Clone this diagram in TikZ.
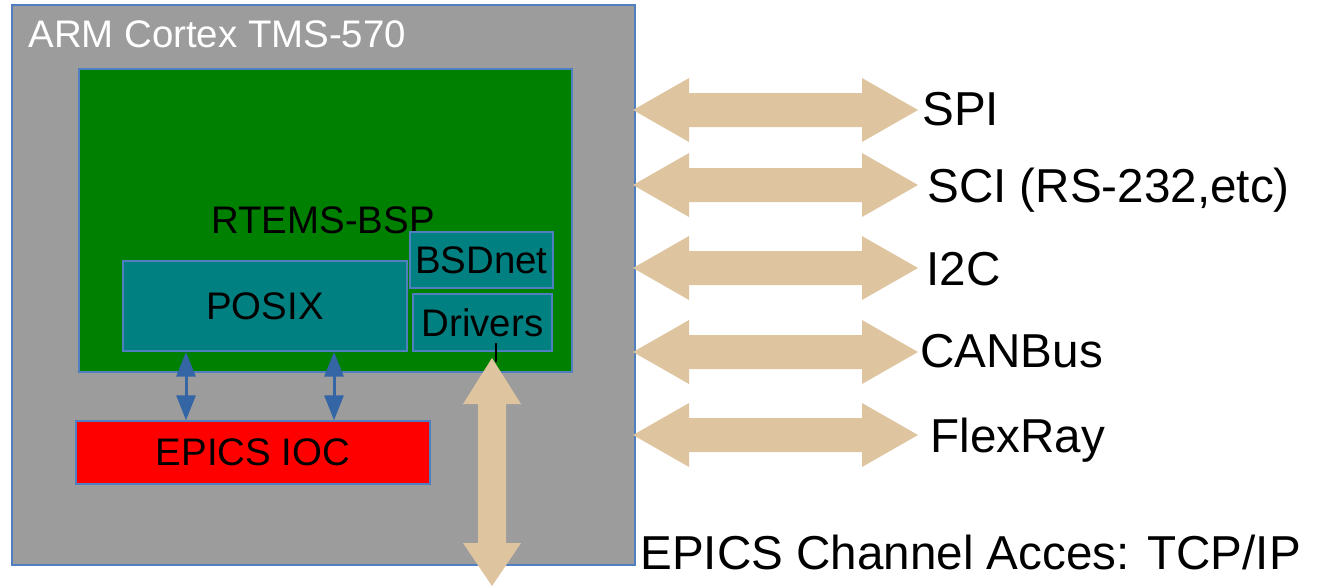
\documentclass[tikz,border=0pt]{standalone}
\usepackage{fontspec}
\setmainfont{Liberation Sans}
\usetikzlibrary{arrows.meta}
\definecolor{cgray}{HTML}{9C9C9C}
\definecolor{cgreen}{HTML}{008000}
\definecolor{cteal}{HTML}{008080}
\definecolor{cred}{HTML}{FF0000}
\definecolor{ctan}{HTML}{DEC59F}
\definecolor{cborder}{HTML}{4F7FC0}
\definecolor{cblue}{HTML}{3465A4}
\newcommand{\fin}{\fontsize{19.2pt}{23pt}\selectfont}
\newcommand{\fout}{\fontsize{23.8pt}{28pt}\selectfont}
\tikzset{
  box/.style={draw=cborder, line width=0.7pt, inner sep=0pt, rectangle},
  intext/.style={font=\fin, text=black, inner sep=0pt},
  outtext/.style={font=\fout, text=black, inner sep=0pt, anchor=base west},
  bluearrow/.style={draw=cblue, line width=1.5pt, {Triangle[width=9.5pt,length=12.5pt]}-{Triangle[width=9.5pt,length=12.5pt]}},
  tanfill/.style={fill=ctan, draw=none},
}
\newcommand{\harrow}[1]{% left tip coordinate name
  \fill[tanfill] (#1) -- ++(56,-32) -- ++(0,15) -- ++(173,0) -- ++(0,-15) -- ++(56,32)
     -- ++(-56,32) -- ++(0,-15) -- ++(-173,0) -- ++(0,15) -- cycle;}
\begin{document}
\begin{tikzpicture}[x=0.5pt,y=-0.5pt]
\useasboundingbox (0,0) rectangle (1320,586);
% outer box
\node[box, fill=cgray, minimum width=311.5pt, minimum height=280pt] (outer) at (323.5,285) {};
\node[anchor=base west, font=\fin, text=white, inner sep=0pt] (title) at (28,47) {ARM Cortex TMS-570};
% green box
\node[box, fill=cgreen, minimum width=246.5pt, minimum height=151.5pt] (bsp) at (325.5,220.5) {};
\node[intext, anchor=base] (bsplabel) at (323,233) {RTEMS-BSP};
\node[box, fill=cteal, minimum width=142pt, minimum height=45pt, intext] (posix) at (265,306) {POSIX};
\node[box, fill=cteal, minimum width=71.5pt, minimum height=28pt, intext] (bsd) at (481.5,260) {BSDnet};
\node[box, fill=cteal, minimum width=69.5pt, minimum height=28.5pt, intext] (drv) at (482.5,322.5) {Drivers};
\node[box, fill=cred, minimum width=177pt, minimum height=31.5pt, intext] (ioc) at (253,452.5) {EPICS IOC};
% blue arrows
\coordinate (xa) at (186,0);
\coordinate (xb) at (334,0);
\draw[bluearrow] (posix.south -| xa) -- (ioc.north -| xa);
\draw[bluearrow] (posix.south -| xb) -- (ioc.north -| xb);
% vertical tan arrow
\coordinate (vtop) at (492,358);
\coordinate (vbot) at (492,586);
\fill[tanfill] (vtop) -- ++(29,46) -- ++(-15,0) -- ++(0,139) -- ++(15,0) -- (vbot)
   -- ++(-29,-43) -- ++(15,0) -- ++(0,-139) -- ++(-15,0) -- cycle;
\coordinate (dline) at (496,343);
\coordinate (dend) at (496,362);
\draw[black, line width=0.6pt] (dline) -- (dend);
% right arrows
\coordinate (a1) at (633,110);
\coordinate (a2) at (633,185);
\coordinate (a3) at (633,268);
\coordinate (a4) at (633,352);
\coordinate (a5) at (633,435);
\harrow{a1}
\harrow{a2}
\harrow{a3}
\harrow{a4}
\harrow{a5}
\node[outtext] (spi) at (922,125) {SPI};
\node[outtext] (sci) at (927,202) {SCI (RS-232,etc)};
\node[outtext] (i2c) at (926,285) {I2C};
\node[outtext] (can) at (920,367) {CANBus};
\node[outtext] (flex) at (930,452) {FlexRay};
\node[outtext] (ca) at (640,569) {EPICS Channel Acces: TCP/IP};
\end{tikzpicture}
\end{document}
